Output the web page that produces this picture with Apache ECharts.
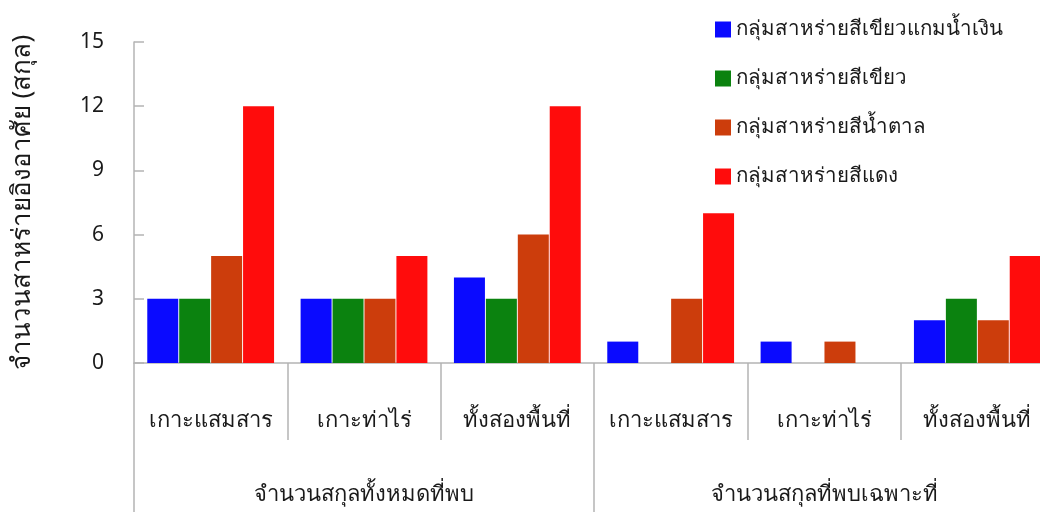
<!DOCTYPE html>
<html><head><meta charset="utf-8">
<script src="https://cdn.jsdelivr.net/npm/echarts@6/dist/echarts.min.js"></script>
<style>html,body{margin:0;padding:0;background:#fff}#c{width:1040px;height:512px}</style>
</head><body><div id="c"></div>
<script>
const categories = ['เกาะแสมสาร','เกาะท่าไร่','ทั้งสองพื้นที่','เกาะแสมสาร','เกาะท่าไร่','ทั้งสองพื้นที่'];
const groups = ['จำนวนสกุลทั้งหมดที่พบ','จำนวนสกุลที่พบเฉพาะที่'];
const seriesNames = ['กลุ่มสาหร่ายสีเขียวแกมน้ำเงิน','กลุ่มสาหร่ายสีเขียว','กลุ่มสาหร่ายสีน้ำตาล','กลุ่มสาหร่ายสีแดง'];
const blueGreen = [3,3,4,1,1,2];
const green = [3,3,3,0,0,3];
const brown = [5,3,6,3,1,2];
const red = [12,5,12,7,0,5];
const yTicks = {min:0,max:15,interval:3};
const yTitle = 'จำนวนสาหร่ายอิงอาศัย (สกุล)';

const colors = ['#0a0aff','#0b820f','#cc3d0c','#ff0c0c'];
const values = [blueGreen, green, brown, red];
const font = 'Tahoma, "Noto Sans", "DejaVu Sans", sans-serif';
const axisGrey = '#b4b4b4';
const chart = echarts.init(document.getElementById('c'));
chart.setOption({
  animation:false,
  textStyle:{fontFamily:font},
  legend:{orient:'vertical',left:715,top:19,itemWidth:16,itemHeight:16,itemGap:28,padding:0,
    icon:'rect',textStyle:{fontSize:20.5,color:'#1a1a1a',fontFamily:font},data:seriesNames},
  grid:{left:134,top:42,width:920,bottom:149,containLabel:false,outerBoundsMode:'none'},
  xAxis:[
    {type:'category',data:categories,position:'bottom',
     axisLine:{show:true,lineStyle:{color:axisGrey,width:1.5}},
     axisTick:{show:true,alignWithLabel:false,length:77,lineStyle:{color:axisGrey,width:1.5}},
     axisLabel:{fontSize:22,color:'#1a1a1a',margin:47,interval:0,hideOverlap:false,fontFamily:font}},
    {type:'category',data:groups,position:'bottom',
     axisLine:{show:false},
     axisTick:{show:true,alignWithLabel:false,length:150,lineStyle:{color:axisGrey,width:1.5}},
     axisLabel:{fontSize:22,color:'#1a1a1a',margin:121,interval:0,fontFamily:font}}
  ],
  yAxis:{type:'value',min:yTicks.min,max:yTicks.max,interval:yTicks.interval,
    name:yTitle,nameLocation:'middle',nameGap:98,nameRotate:90,
    nameTextStyle:{fontSize:26,color:'#1a1a1a',fontFamily:font},
    axisLine:{show:true,lineStyle:{color:axisGrey,width:1.5}},
    axisTick:{show:true,inside:true,length:10,lineStyle:{color:axisGrey,width:1.5}},
    axisLabel:{fontSize:21,color:'#1a1a1a',margin:30,fontFamily:font},
    splitLine:{show:false}},
  series: seriesNames.map((n,i)=>({
    name:n,type:'bar',xAxisIndex:0,data:values[i],barWidth:31,barGap:'3%',
    itemStyle:{color:colors[i]}
  }))
});
</script></body></html>
